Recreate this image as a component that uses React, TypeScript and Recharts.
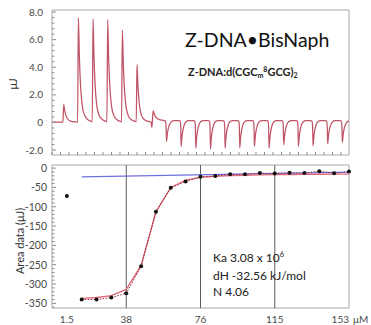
import React from 'react';
import { ComposedChart, Line, Scatter, XAxis, YAxis, ReferenceLine, ReferenceArea } from 'recharts';

const FONT = 'Lato, "Open Sans", sans-serif';

// raw thermogram: [time (s), heat (μJ)]
const rawTrace: [number, number][] = [
  [0, 0.02], [112, 0.02],
  [120, 1.33], [128, 0.95], [140, 0.55], [160, 0.25], [190, 0.1], [230, 0.04], [262, 0.03],
  [270, 7.59], [280, 4.8], [292, 2.7], [310, 1.2], [335, 0.5], [368, 0.2], [405, 0.07], [412, 0.05],
  [420, 7.5], [430, 4.7], [442, 2.65], [460, 1.15], [485, 0.48], [518, 0.19], [555, 0.07], [562, 0.05],
  [570, 7.45], [580, 4.65], [592, 2.6], [610, 1.15], [635, 0.47], [668, 0.18], [705, 0.07], [712, 0.05],
  [720, 6.7], [730, 4.2], [742, 2.35], [760, 1.05], [785, 0.42], [818, 0.17], [855, 0.07], [862, 0.05],
  [870, 4.2], [880, 2.65], [892, 1.45], [910, 0.65], [935, 0.27], [968, 0.11], [1005, 0.05], [1014, 0.03],
  [1022, -0.37], [1029, 0.3], [1036, 0.83], [1047, 0.6], [1062, 0.4], [1082, 0.26], [1112, 0.18], [1148, 0.14],
  [1160, 0.1], [1167, -0.2], [1172, -1.38], [1180, -0.86], [1190, -0.44], [1204, -0.14], [1222, 0.05], [1250, 0.13],
  [1298, 0.14], [1310, 0.1], [1317, -0.2], [1322, -1.74], [1330, -1.08], [1340, -0.56], [1354, -0.17], [1372, 0.05], [1400, 0.13],
  [1448, 0.14], [1460, 0.1], [1467, -0.2], [1472, -1.86], [1480, -1.15], [1490, -0.6], [1504, -0.19], [1522, 0.05], [1550, 0.13],
  [1598, 0.14], [1610, 0.1], [1617, -0.2], [1622, -1.93], [1630, -1.2], [1640, -0.62], [1654, -0.19], [1672, 0.05], [1700, 0.13],
  [1748, 0.14], [1760, 0.1], [1767, -0.2], [1772, -1.86], [1780, -1.15], [1790, -0.6], [1804, -0.19], [1822, 0.05], [1850, 0.13],
  [1898, 0.14], [1910, 0.1], [1917, -0.2], [1922, -1.83], [1930, -1.13], [1940, -0.59], [1954, -0.18], [1972, 0.05], [2000, 0.13],
  [2048, 0.14], [2060, 0.1], [2067, -0.2], [2072, -1.74], [2080, -1.08], [2090, -0.56], [2104, -0.17], [2122, 0.05], [2150, 0.13],
  [2198, 0.14], [2210, 0.1], [2217, -0.2], [2222, -1.86], [2230, -1.15], [2240, -0.6], [2254, -0.19], [2272, 0.05], [2300, 0.13],
  [2348, 0.14], [2360, 0.1], [2367, -0.2], [2372, -1.62], [2380, -1.0], [2390, -0.52], [2404, -0.16], [2422, 0.05], [2450, 0.13],
  [2498, 0.14], [2510, 0.1], [2517, -0.2], [2522, -1.74], [2530, -1.08], [2540, -0.56], [2554, -0.17], [2572, 0.05], [2600, 0.13],
  [2648, 0.14], [2660, 0.1], [2667, -0.2], [2672, -1.69], [2680, -1.05], [2690, -0.54], [2704, -0.17], [2722, 0.05], [2750, 0.13],
  [2798, 0.14], [2810, 0.1], [2817, -0.2], [2822, -1.55], [2830, -0.96], [2840, -0.5], [2854, -0.16], [2872, 0.05], [2900, 0.13],
  [2948, 0.14], [2960, 0.1], [2967, -0.2], [2972, -1.45], [2980, -0.9], [2990, -0.46], [3004, -0.15], [3022, 0.05], [3040, 0.1],
];

// integrated heats per injection (lower panel)
const injections = [1, 2, 3, 4, 5, 6, 7, 8, 9, 10, 11, 12, 13, 14, 15, 16, 17, 18, 19, 20];
const areaData = [-72, -340, -340, -335, -324, -254, -113, -51, -35, -22.5, -20.5, -16, -16, -13, -14, -12, -13, -8, -13.5, -9];
const fitData = [null, -337, -335, -330, -314, -252, -113, -50, -31, -24, -21, -19.5, -18.5, -17.5, -17, -16.5, -16, -16, -15.5, -15.5];
const baselineInj = [2, 20];
const baselineVal = [-22.5, -10.5];

const concTicks = [1, 5, 10, 15, 20];
const concLabels = ['1.5', '38', '76', '115', '153'];
const gridInj = [5, 10, 15];

const rawRows = rawTrace.map(([t, q]) => ({ t, q }));
const areaRows = injections.map((inj, i) => ({
  inj,
  area: areaData[i],
  fit: fitData[i],
  link: i > 0 ? areaData[i] : null,
}));
const baseRows = baselineInj.map((inj, i) => ({ inj, base: baselineVal[i] }));

const TIME_MAX = 3040;
const HEAT_DOMAIN: [number, number] = [-2.36, 8.15];
const AREA_DOMAIN: [number, number] = [-362, 8];

const timeTicks = Array.from({ length: 35 }, (_, k) => k * 87);
const heatTicks = Array.from({ length: 26 }, (_, k) => (2 * k - 10) / 5);
const areaTicks = Array.from({ length: 37 }, (_, k) => -360 + 10 * k);

function TimeTick({ x, y }: any) {
  return <line x1={x} x2={x} y1={y} y2={y - 3} stroke="#8c8c8c" />;
}

function HeatTick({ x, y, payload }: any) {
  const v = payload.value as number;
  const major = Math.abs(v / 2 - Math.round(v / 2)) < 1e-9;
  const ax = x + 9;
  return (
    <g>
      <line x1={ax} x2={ax + (major ? 4 : 2.5)} y1={y} y2={y} stroke="#8c8c8c" />
      {major && (
        <text x={x} y={y} dy={3.5} textAnchor="end" fontSize={10} fontFamily={FONT} fill="#4a4a4a">
          {v === 0 ? '0' : v.toFixed(1)}
        </text>
      )}
    </g>
  );
}

function AreaTick({ x, y, payload }: any) {
  const v = payload.value as number;
  const major = v % 50 === 0;
  const ax = x + 5;
  return (
    <g>
      <line x1={ax} x2={ax + (major ? 4 : 2.5)} y1={y} y2={y} stroke="#8c8c8c" />
      {major && (
        <text x={x} y={y} dy={3.8} textAnchor="end" fontSize={10.5} fontFamily={FONT} fill="#4a4a4a">
          {v}
        </text>
      )}
    </g>
  );
}

function ConcTick({ x, y, payload }: any) {
  const idx = concTicks.indexOf(payload.value);
  const label = concLabels[idx];
  const last = idx === concTicks.length - 1;
  return (
    <g fontFamily={FONT} fontSize={10} fill="#4a4a4a">
      <text x={x} y={y + 15} textAnchor={last ? 'end' : 'middle'}>
        {label}
      </text>
      {last && (
        <text x={x + 4} y={y + 15} textAnchor="start">
          μM
        </text>
      )}
    </g>
  );
}

export default function App() {
  return (
    <div style={{ position: 'absolute', left: 0, top: 0, width: 371, height: 325, background: '#fff' }}>
      <div style={{ position: 'absolute', left: 0, top: 0 }}>
        <ComposedChart width={371} height={165} data={rawRows} margin={{ top: 10, right: 22, bottom: 0, left: 0 }}>
          <XAxis
            type="number"
            dataKey="t"
            domain={[0, TIME_MAX]}
            ticks={timeTicks}
            interval={0}
            tick={<TimeTick />}
            tickLine={false}
            axisLine={false}
            tickSize={0}
            tickMargin={0}
            height={10}
          />
          <YAxis
            type="number"
            domain={HEAT_DOMAIN}
            ticks={heatTicks}
            interval={0}
            tick={<HeatTick />}
            tickLine={false}
            axisLine={false}
            tickSize={0}
            tickMargin={9}
            width={52}
          />
          <ReferenceArea x1={0} x2={TIME_MAX} y1={HEAT_DOMAIN[0]} y2={HEAT_DOMAIN[1]} fill="none" stroke="#a8a8a8" />
          <Line
            dataKey="q"
            type="monotone"
            stroke="#c05466"
            strokeWidth={1.25}
            dot={false}
            isAnimationActive={false}
          />
        </ComposedChart>
      </div>
      <div style={{ position: 'absolute', left: 0, top: 155 }}>
        <ComposedChart width={371} height={170} data={areaRows} margin={{ top: 10, right: 22, bottom: 0, left: 0 }}>
          <XAxis
            type="number"
            dataKey="inj"
            domain={[0, 20]}
            ticks={concTicks}
            interval={0}
            tick={<ConcTick />}
            tickLine={false}
            axisLine={false}
            tickSize={0}
            tickMargin={0}
            height={17}
          />
          <YAxis
            type="number"
            domain={AREA_DOMAIN}
            ticks={areaTicks}
            interval={0}
            tick={<AreaTick />}
            tickLine={false}
            axisLine={false}
            tickSize={0}
            tickMargin={5}
            width={52}
          />
          <ReferenceArea x1={0} x2={20} y1={AREA_DOMAIN[0]} y2={AREA_DOMAIN[1]} fill="none" stroke="#a8a8a8" />
          {gridInj.map((g) => (
            <ReferenceLine key={g} x={g} stroke="#5c5c5c" strokeWidth={1} />
          ))}
          <Line
            data={baseRows}
            dataKey="base"
            type="linear"
            stroke="#6f6fe0"
            strokeWidth={1.3}
            dot={false}
            isAnimationActive={false}
          />
          <Line
            dataKey="fit"
            type="linear"
            stroke="#e06a78"
            strokeWidth={1.4}
            dot={false}
            connectNulls
            isAnimationActive={false}
          />
          <Line
            dataKey="link"
            type="linear"
            stroke="#8a2838"
            strokeWidth={1}
            strokeDasharray="1.5 1.5"
            dot={false}
            connectNulls
            isAnimationActive={false}
          />
          <Scatter
            dataKey="area"
            isAnimationActive={false}
            shape={(p: any) => <circle cx={p.cx} cy={p.cy} r={2} fill="#111" />}
          />
        </ComposedChart>
      </div>
      <svg width={371} height={325} style={{ position: 'absolute', left: 0, top: 0, pointerEvents: 'none' }}>
        <g fontFamily={FONT}>
          <text transform="translate(17,84) rotate(-90)" textAnchor="middle" fontSize={11} fill="#333">
            μJ
          </text>
          <text transform="translate(24,241) rotate(-90)" textAnchor="middle" fontSize={11} fill="#333">
            Area data (μJ)
          </text>
          <text x={185} y={47} fontSize={19.5} fill="#111">
            Z-DNA•BisNaph
          </text>
          <text x={188} y={76} fontSize={11} fontWeight={700} fill="#222">
            Z-DNA:d(CGC
            <tspan fontSize={7} dy={2}>m</tspan>
            <tspan fontSize={7} dy={-6}>8</tspan>
            <tspan fontSize={11} dy={4}>GCG)</tspan>
            <tspan fontSize={7} dy={2}>2</tspan>
          </text>
          <g fontSize={12} fill="#222">
            <text x={213} y={262}>
              Ka 3.08 x 10<tspan fontSize={7.5} dy={-5}>6</tspan>
            </text>
            <text x={213} y={280}>dH -32.56 kJ/mol</text>
            <text x={213} y={296}>N 4.06</text>
          </g>
        </g>
      </svg>
    </div>
  );
}
